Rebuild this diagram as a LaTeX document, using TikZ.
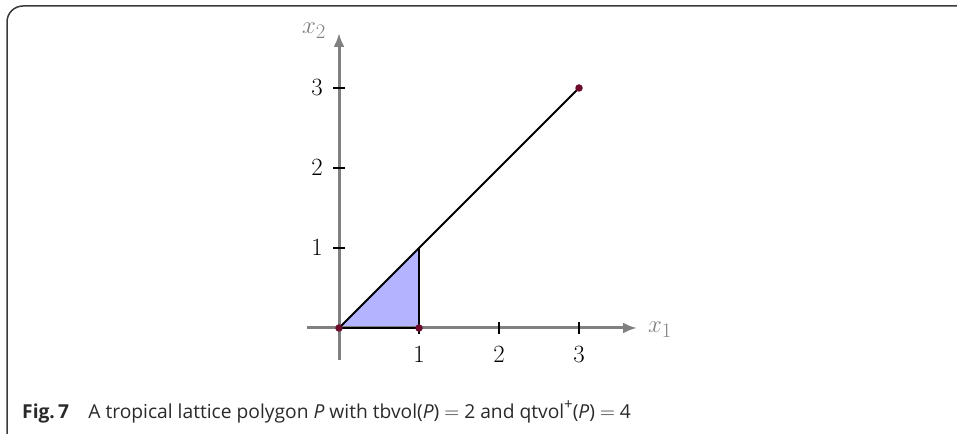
\documentclass[tikz,border=0pt]{standalone}
\usepackage{fontspec}
\setsansfont{Open Sans}
\usetikzlibrary{arrows.meta}
\definecolor{axisgray}{HTML}{808080}
\definecolor{ptred}{HTML}{6B0A2A}
\definecolor{polyfill}{HTML}{B3B3FF}
\definecolor{framegray}{HTML}{3A3A3A}
\definecolor{captext}{HTML}{2A2A2A}
\tikzset{
  axis/.style={draw=axisgray, line width=3bp, -{Latex[length=14bp,width=11bp]}},
  tickmark/.style={draw=black, line width=1.6bp},
  edge/.style={draw=black, line width=1.8bp},
  latpt/.style={circle, fill=ptred, inner sep=0pt, minimum size=7.5bp},
  ticklabel/.style={inner sep=0pt, font=\fontsize{32}{35}\selectfont},
  axislabel/.style={inner sep=0pt, text=axisgray, font=\fontsize{30}{33}\selectfont},
  captionstyle/.style={inner sep=0pt, anchor=base west, text=captext, font=\sffamily\fontsize{19.3}{22}\selectfont}
}
\begin{document}
\begin{tikzpicture}[x=1bp, y=-1bp]
\useasboundingbox (0,0) rectangle (957,434);
% frame
\draw[framegray, line width=1.5bp, rounded corners=16bp] (960,6) -- (7,6) -- (7,450) -- (40,450);
% polygon fill
\coordinate (O) at (339,328);
\coordinate (A) at (419,328);
\coordinate (B) at (419,248);
\coordinate (C) at (579,88);
\fill[polyfill] (O) -- (A) -- (B) -- cycle;
% axes
\coordinate (xs) at (307,328);
\coordinate (xe) at (637,328);
\coordinate (ys) at (339,360);
\coordinate (ye) at (339,33);
\draw[axis] (xs) -- (xe);
\draw[axis] (ys) -- (ye);
% ticks
\foreach \i/\x in {1/419,2/499,3/579} {
  \draw[tickmark] (\x,322) -- (\x,334);
  \node[ticklabel] (xl\i) at (\x,355) {$\i$};
}
\foreach \i/\y in {1/248,2/168,3/88} {
  \draw[tickmark] (333,\y) -- (345,\y);
  \node[ticklabel, anchor=east] (yl\i) at (323,\y) {$\i$};
}
\node[axislabel, anchor=west] (x1) at (648,330) {$x_1$};
\node[axislabel, anchor=east] (x2) at (326,31) {$x_2$};
% edges
\draw[edge] (O) -- (C);
\draw[edge] (O) -- (A) -- (B);
% points
\node[latpt] (pO) at (O) {};
\node[latpt] (pA) at (A) {};
\node[latpt] (pC) at (C) {};
% caption
\node[captionstyle] (cap) at (22,418) {\textbf{Fig.\,7}\quad A tropical lattice polygon \textit{P} with tbvol(\textit{P}) $=$ 2 and qtvol\raisebox{0.8ex}{\fontsize{15}{15}\selectfont +}(\textit{P}) $=$ 4};
\end{tikzpicture}
\end{document}
